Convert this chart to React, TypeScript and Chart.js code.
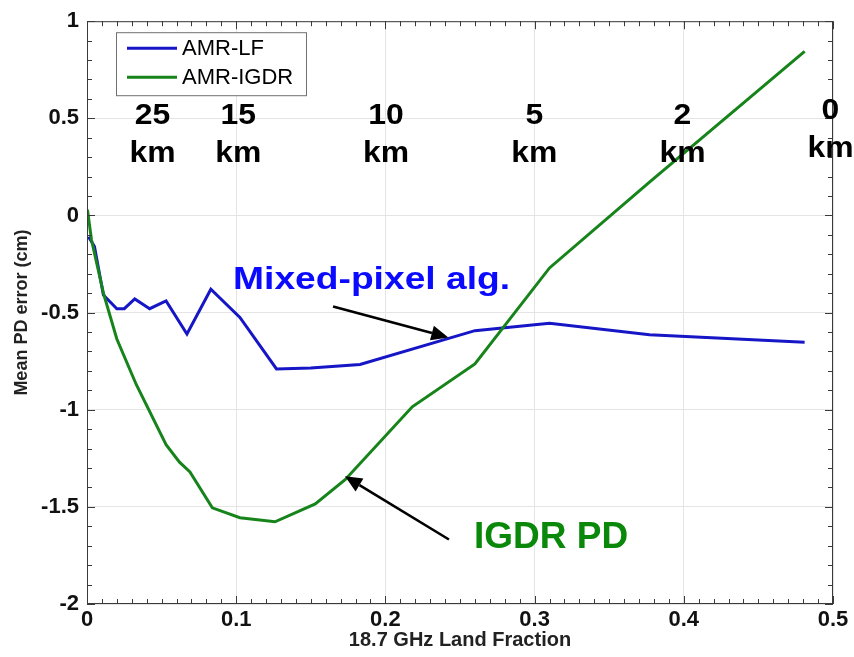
import { useEffect, useRef } from 'react';
import { Chart, registerables } from 'chart.js';

Chart.register(...registerables);

// ---- data ----
const seriesNames = ['AMR-LF', 'AMR-IGDR'];

const lfX = [0.001, 0.005, 0.011, 0.020, 0.025, 0.032, 0.042, 0.053, 0.067, 0.083, 0.1025, 0.127, 0.15, 0.183, 0.26, 0.31, 0.377, 0.481];
const lfY = [-0.11, -0.16, -0.41, -0.48, -0.48, -0.43, -0.48, -0.44, -0.61, -0.38, -0.525, -0.79, -0.785, -0.767, -0.593, -0.555, -0.614, -0.653];

const igdrX = [0.0003, 0.003, 0.011, 0.020, 0.033, 0.053, 0.062, 0.069, 0.084, 0.1025, 0.126, 0.153, 0.173, 0.218, 0.26, 0.31, 0.377, 0.481];
const igdrY = [0.03, -0.125, -0.40, -0.636, -0.87, -1.18, -1.27, -1.32, -1.505, -1.556, -1.577, -1.485, -1.36, -0.985, -0.764, -0.27, 0.172, 0.845];

const kmNumbers = ['25', '15', '10', '5', '2', '0'];
const kmUnit = 'km';
const kmAtX = [0.0439, 0.1014, 0.2004, 0.2998, 0.3991, 0.4983];

const xTitle = '18.7 GHz Land Fraction';
const yTitle = 'Mean PD error (cm)';
const mixedLabel = 'Mixed-pixel alg.';
const igdrLabel = 'IGDR PD';

// ---- styles ----
const FONT = "'Liberation Sans', Arial, Helvetica, sans-serif";
const BLUE = '#1616c6';
const GREEN = '#16841a';
const TEXT_BLUE = '#0a0aff';
const TEXT_GREEN = '#0a880a';

const fmt = (v: number) => String(Math.round(v * 100) / 100);

function drawArrow(ctx: CanvasRenderingContext2D, x1: number, y1: number, x2: number, y2: number) {
  const ang = Math.atan2(y2 - y1, x2 - x1);
  const hl = 17, hw = 7.5;
  const bx = x2 - hl * Math.cos(ang);
  const by = y2 - hl * Math.sin(ang);
  ctx.save();
  ctx.strokeStyle = '#000';
  ctx.fillStyle = '#000';
  ctx.lineWidth = 2.6;
  ctx.beginPath();
  ctx.moveTo(x1, y1);
  ctx.lineTo(bx, by);
  ctx.stroke();
  ctx.beginPath();
  ctx.moveTo(x2, y2);
  ctx.lineTo(bx + hw * Math.sin(ang), by - hw * Math.cos(ang));
  ctx.lineTo(bx - hw * Math.sin(ang), by + hw * Math.cos(ang));
  ctx.closePath();
  ctx.fill();
  ctx.restore();
}

function stretchText(ctx: CanvasRenderingContext2D, text: string, x: number, y: number, sx: number, align: CanvasTextAlign) {
  ctx.save();
  ctx.translate(x, y);
  ctx.scale(sx, 1);
  ctx.textAlign = align;
  ctx.textBaseline = 'alphabetic';
  ctx.fillText(text, 0, 0);
  ctx.restore();
}

const overlayPlugin = {
  id: 'overlay',
  afterDatasetsDraw(chart: any) {
    const { ctx, chartArea: a, scales } = chart;
    const x = scales.x;
    const y = scales.y;
    ctx.save();
    // box + inward ticks
    ctx.strokeStyle = '#3a3a3a';
    ctx.lineWidth = 1;
    ctx.beginPath();
    for (let i = 0; i <= 50; i++) {
      const px = Math.round(x.getPixelForValue(i / 100)) + 0.5;
      const len = i % 10 === 0 ? 8 : 5;
      ctx.moveTo(px, a.bottom);
      ctx.lineTo(px, a.bottom - len);
      ctx.moveTo(px, a.top);
      ctx.lineTo(px, a.top + len);
    }
    for (let i = -20; i <= 10; i++) {
      const py = Math.round(y.getPixelForValue(i / 10)) + 0.5;
      const len = i % 5 === 0 ? 8 : 5;
      ctx.moveTo(a.left, py);
      ctx.lineTo(a.left + len, py);
      ctx.moveTo(a.right, py);
      ctx.lineTo(a.right - len, py);
    }
    ctx.stroke();
    ctx.strokeRect(a.left + 0.5, a.top + 0.5, a.right - a.left - 1, a.bottom - a.top - 1);

    // legend
    const lx = a.left + 29, ly = a.top + 11, lw = 190, lh = 63;
    ctx.fillStyle = '#fff';
    ctx.fillRect(lx, ly, lw, lh);
    ctx.strokeStyle = '#707070';
    ctx.strokeRect(lx + 0.5, ly + 0.5, lw, lh);
    const colors = [BLUE, GREEN];
    seriesNames.forEach((name, i) => {
      const yy = ly + 16 + i * 29;
      ctx.strokeStyle = colors[i];
      ctx.lineWidth = 3;
      ctx.beginPath();
      ctx.moveTo(lx + 11, yy);
      ctx.lineTo(lx + 61, yy);
      ctx.stroke();
      ctx.fillStyle = '#000';
      ctx.font = `22px ${FONT}`;
      ctx.textAlign = 'left';
      ctx.textBaseline = 'middle';
      ctx.fillText(name, lx + 66, yy + 1);
    });

    // km labels
    ctx.fillStyle = '#000';
    ctx.font = `bold 29px ${FONT}`;
    kmNumbers.forEach((n, i) => {
      const cx = x.getPixelForValue(kmAtX[i]);
      const last = i === kmNumbers.length - 1;
      const yNum = y.getPixelForValue(last ? 0.495 : 0.469);
      const yKm = y.getPixelForValue(last ? 0.301 : 0.2755);
      stretchText(ctx, n, cx, yNum, 1.1, 'center');
      stretchText(ctx, kmUnit, cx, yKm, 1.1, 'center');
    });

    // annotations
    ctx.font = `bold 31px ${FONT}`;
    ctx.fillStyle = TEXT_BLUE;
    stretchText(ctx, mixedLabel, x.getPixelForValue(0.0979), y.getPixelForValue(-0.378), 1.2, 'left');
    ctx.font = `bold 37px ${FONT}`;
    ctx.fillStyle = TEXT_GREEN;
    stretchText(ctx, igdrLabel, x.getPixelForValue(0.2594), y.getPixelForValue(-1.714), 1.0, 'left');

    drawArrow(ctx, x.getPixelForValue(0.1649), y.getPixelForValue(-0.469), x.getPixelForValue(0.2422), y.getPixelForValue(-0.628));
    drawArrow(ctx, x.getPixelForValue(0.2426), y.getPixelForValue(-1.668), x.getPixelForValue(0.1729), y.getPixelForValue(-1.342));
    ctx.restore();
  },
};

export default function App() {
  const ref = useRef<HTMLCanvasElement | null>(null);
  useEffect(() => {
    if (!ref.current) return;
    const chart = new Chart(ref.current, {
      type: 'line',
      data: {
        datasets: [
          {
            label: seriesNames[0],
            data: lfX.map((v, i) => ({ x: v, y: lfY[i] })),
            borderColor: BLUE,
            borderWidth: 3,
            pointRadius: 0,
            tension: 0,
            fill: false,
            order: 1,
          },
          {
            label: seriesNames[1],
            data: igdrX.map((v, i) => ({ x: v, y: igdrY[i] })),
            borderColor: GREEN,
            borderWidth: 3,
            pointRadius: 0,
            tension: 0,
            fill: false,
            order: 0,
          },
        ],
      },
      options: {
        animation: false,
        responsive: true,
        maintainAspectRatio: false,
        layout: { padding: { top: 16, right: 21, left: 0, bottom: 0 } },
        plugins: { legend: { display: false }, tooltip: { enabled: false } },
        scales: {
          x: {
            type: 'linear',
            min: 0,
            max: 0.5,
            ticks: { stepSize: 0.1, color: '#111', font: { family: FONT, size: 22, weight: 'bold' }, padding: 3, maxRotation: 0, autoSkip: false, callback: (v: any) => fmt(Number(v)) },
            grid: { color: '#e4e4e4', drawTicks: false },
            border: { display: false },
            title: { display: true, text: xTitle, color: '#222', font: { family: FONT, size: 20, weight: 'bold' }, padding: { top: 0, bottom: 5 } },
            afterFit(s: any) { s.height = 53; },
          },
          y: {
            type: 'linear',
            min: -2,
            max: 1,
            ticks: { stepSize: 0.5, color: '#111', font: { family: FONT, size: 22, weight: 'bold' }, padding: 8, callback: (v: any) => fmt(Number(v)) },
            grid: { color: '#e4e4e4', drawTicks: false },
            border: { display: false },
            title: { display: true, text: yTitle, color: '#222', font: { family: FONT, size: 18, weight: 'bold' }, padding: { top: 11, bottom: 0 } },
            afterFit(s: any) { s.width = 87; },
          },
        },
      },
      plugins: [overlayPlugin],
    } as any);
    return () => chart.destroy();
  }, []);
  return (
    <div style={{ position: 'fixed', left: 0, top: 0, width: 854, height: 657, background: '#fff' }}>
      <canvas ref={ref} />
    </div>
  );
}
